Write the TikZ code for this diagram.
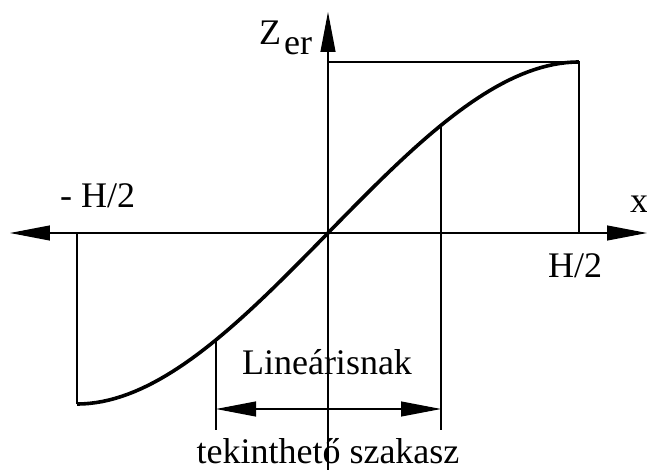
\documentclass[tikz,border=0pt]{standalone}
\usepackage{fontspec}
\setmainfont{Liberation Serif}
\usetikzlibrary{arrows.meta}
\begin{document}
\begin{tikzpicture}[x=1pt,y=1pt,
  thin line/.style={line width=1.1pt},
  big tip/.style={-{Triangle[length=40pt,width=15pt]}},
  both tips/.style={{Triangle[length=40pt,width=15pt]}-{Triangle[length=40pt,width=15pt]}},
  lbl/.style={inner sep=0pt,font=\fontsize{36}{40}\selectfont}]
\useasboundingbox (-328,-237) rectangle (319,233);
% coordinates
\coordinate (O) at (0,0);
\coordinate (xl) at (-318,0);
\coordinate (xr) at (319,0);
\coordinate (yb) at (0,-237);
\coordinate (yt) at (0,221);
\coordinate (pR) at (251,171);
\coordinate (pRa) at (251,0);
\coordinate (pRy) at (0,171);
\coordinate (pL) at (-251,-171);
\coordinate (pLa) at (-251,0);
\coordinate (cA) at (-112,{-(1.022*112-85.5*(112/251)^3)});
\coordinate (cAb) at (-112,-197);
\coordinate (cB) at (113,{1.022*113-85.5*(113/251)^3});
\coordinate (cBb) at (113,-197);
\coordinate (dA) at (-112,-176);
\coordinate (dB) at (113,-176);
% axes
\draw[thin line,both tips] (xl) -- (xr);
\draw[thin line,big tip] (yb) -- (yt);
% helper lines
\draw[thin line] (pRy) -- (pR) -- (pRa);
\draw[thin line] (pLa) -- (pL);
\draw[thin line] (cA) -- (cAb);
\draw[thin line] (cB) -- (cBb);
\draw[thin line,both tips] (dA) -- (dB);
% curve
\draw[line width=3.6pt] plot[domain=-251:251,samples=80] (\x,{1.022*\x-85.5*(\x/251)^3});
% labels
\node[lbl,anchor=base west] (mh) at (-268,25) {- H/2};
\node[lbl,anchor=base west] (ph) at (220,-45) {H/2};
\node[lbl,anchor=base west] (xa) at (302,20) {x};
\node[lbl,anchor=base west] (za) at (-69,188) {Z\kern3pt\raisebox{-10pt}{er}};
\node[lbl,anchor=base] (lin) at (-1,-142) {Lineárisnak};
\node[lbl,anchor=base] (tek) at (0,-230) {tekinthető szakasz};
\end{tikzpicture}
\end{document}
